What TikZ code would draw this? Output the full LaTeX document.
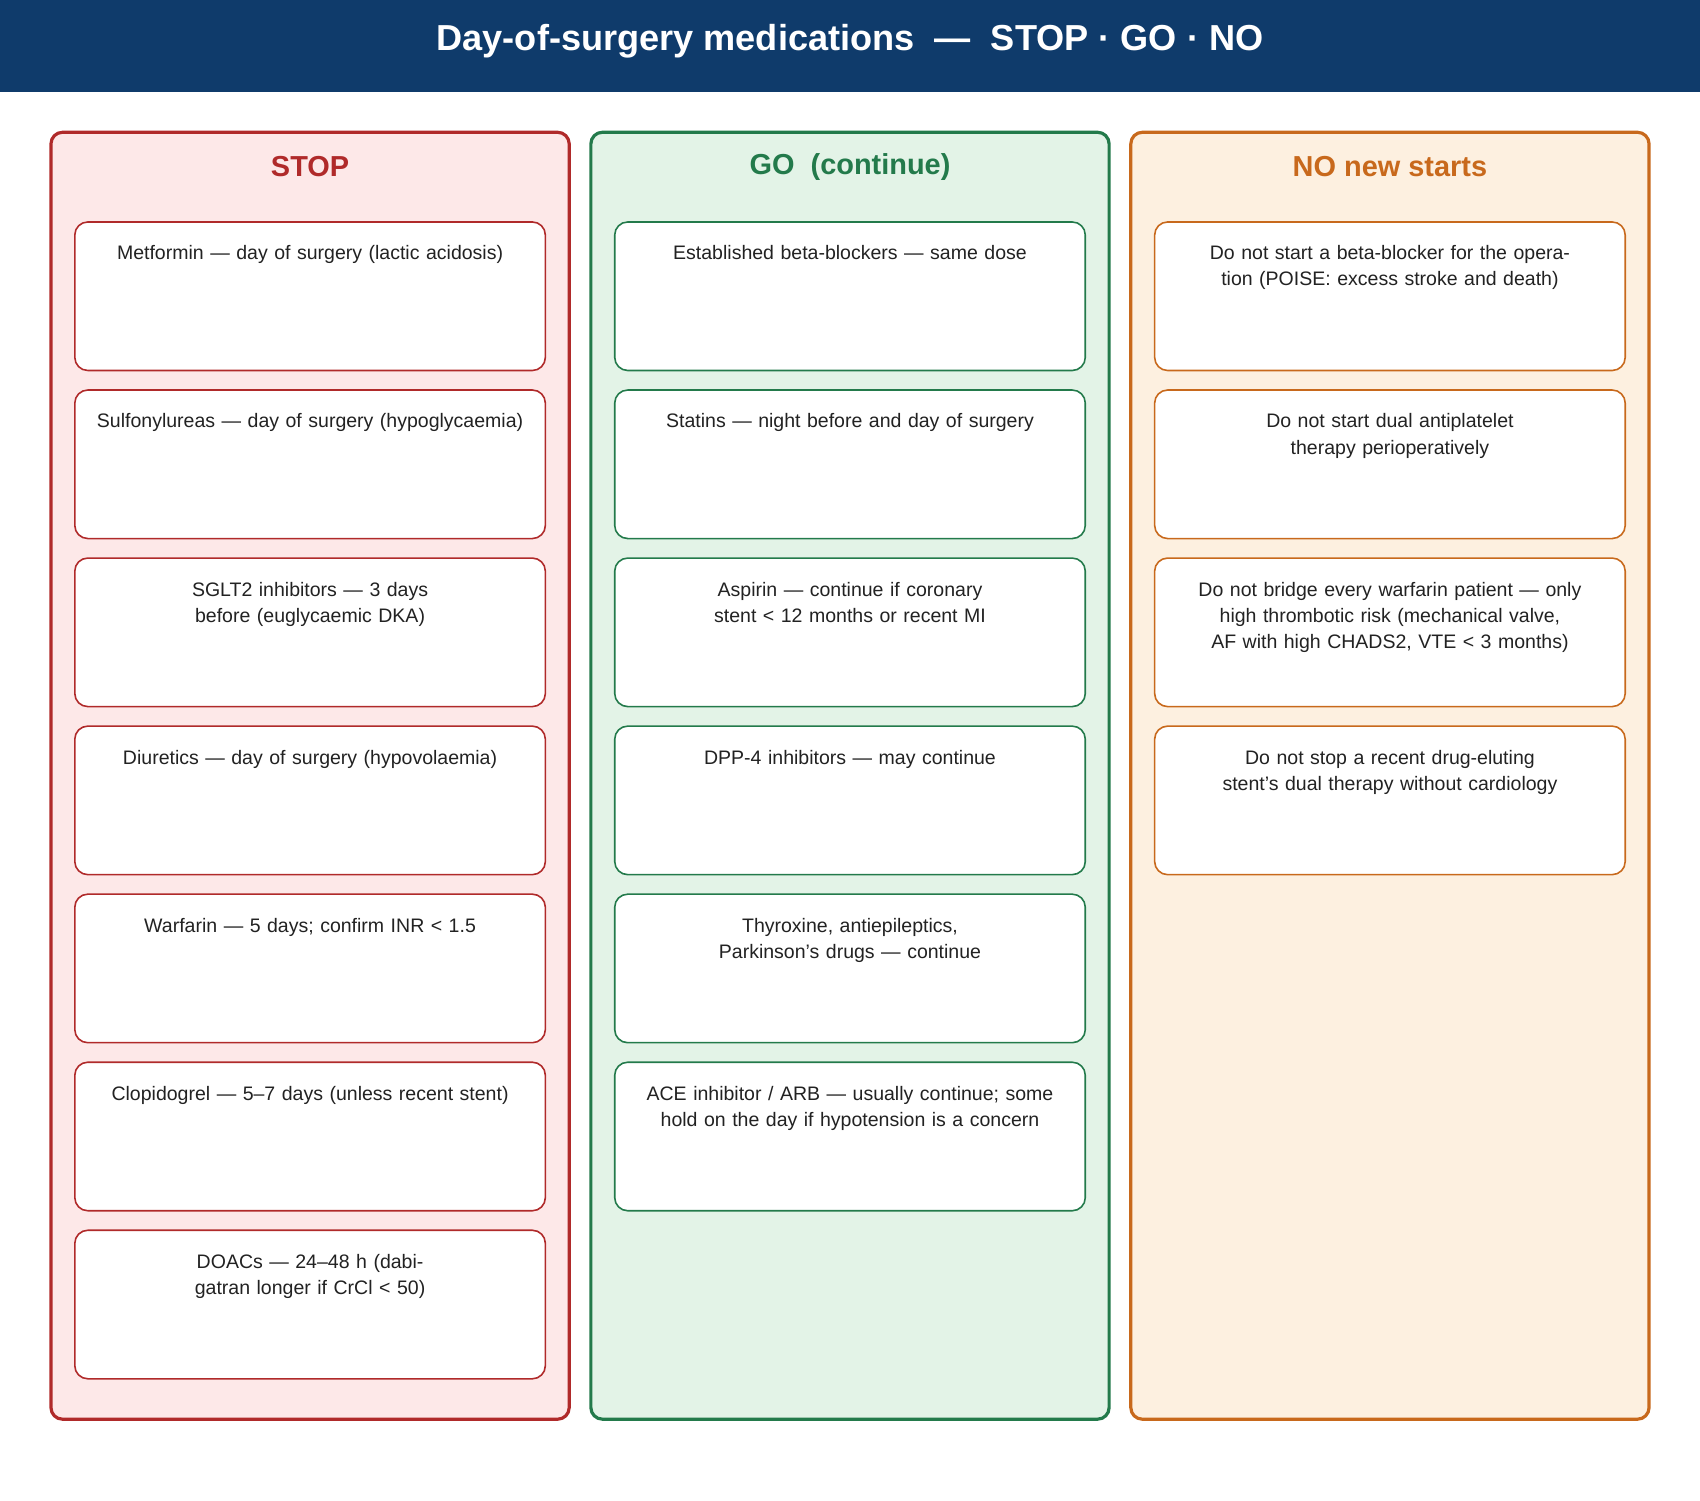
\documentclass[tikz,border=0pt]{standalone}
\usepackage{fontspec}
\setmainfont{Liberation Sans}
\usetikzlibrary{positioning}
\definecolor{hdrblue}{HTML}{0F3B6B}
\definecolor{stopc}{HTML}{B02A2A}
\definecolor{stopbg}{HTML}{FDE8E8}
\definecolor{goc}{HTML}{237A4B}
\definecolor{gobg}{HTML}{E3F3E7}
\definecolor{noc}{HTML}{C8691C}
\definecolor{nobg}{HTML}{FDF0E0}
\definecolor{txt}{HTML}{222222}
\tikzset{
  column/.style={draw=#1, line width=2.2pt, rounded corners=8pt},
  coltitle/.style={text=#1, font=\bfseries\fontsize{20}{24}\selectfont},
  card/.style={draw=#1, fill=white, line width=1.1pt, rounded corners=9pt,
    minimum width=434*0.75pt, minimum height=137*0.75pt, anchor=north},
  cardtext/.style={text=txt, font=\fontsize{13.5}{18}\selectfont, text width=400*0.75pt,
    align=center, anchor=north}
}
\begin{document}
\begin{tikzpicture}[x=0.75pt,y=-0.75pt,line cap=round,line join=round]
\useasboundingbox (0,0) rectangle (1568,1384);
% header
\fill[hdrblue] (0,0) rectangle (1568,85);
\node[text=white, font=\bfseries\fontsize{25}{30}\selectfont] (title) at (784,38)
  {Day-of-surgery medications \ --- \ STOP · GO · NO};
% columns
\filldraw[column=stopc, fill=stopbg] (47,122) rectangle (525,1309);
\filldraw[column=goc, fill=gobg] (545,122) rectangle (1023,1309);
\filldraw[column=noc, fill=nobg] (1043,122) rectangle (1521,1309);
\node[coltitle=stopc] (stoph) at (286,154) {STOP};
\node[coltitle=goc] (goh) at (784,154) {GO \ (continue)};
\node[coltitle=noc] (noh) at (1282,154) {NO new starts};
% STOP cards
\foreach \t [count=\i] in {
  {Metformin --- day of surgery (lactic acidosis)},
  {Sulfonylureas --- day of surgery (hypoglycaemia)},
  {SGLT2 inhibitors --- 3 days before (euglycaemic DKA)},
  {Diuretics --- day of surgery (hypovolaemia)},
  {Warfarin --- 5 days; confirm INR < 1.5},
  {Clopidogrel --- 5--7 days (unless recent stent)},
  {DOACs --- 24--48 h (dabigatran longer if CrCl < 50)}}{
  \node[card=stopc] (stop\i) at (286,{204+155*(\i-1)}) {};
  \node[cardtext] (stopt\i) at (286,{222+155*(\i-1)}) {\t};
}
% GO cards
\foreach \t [count=\i] in {
  {Established beta-blockers --- same dose},
  {Statins --- night before and day of surgery},
  {Aspirin --- continue if coronary stent < 12 months or recent MI},
  {DPP-4 inhibitors --- may continue},
  {Thyroxine, antiepileptics, Parkinson's drugs --- continue},
  {ACE inhibitor / ARB --- usually continue; some hold on the day if hypotension is a concern}}{
  \node[card=goc] (go\i) at (784,{204+155*(\i-1)}) {};
  \node[cardtext] (got\i) at (784,{222+155*(\i-1)}) {\t};
}
% NO cards
\foreach \t [count=\i] in {
  {Do not start a beta-blocker for the operation (POISE: excess stroke and death)},
  {Do not start dual antiplatelet therapy perioperatively},
  {Do not bridge every warfarin patient --- only high thrombotic risk (mechanical valve, AF with high CHADS2, VTE < 3 months)},
  {Do not stop a recent drug-eluting stent's dual therapy without cardiology}}{
  \node[card=noc] (no\i) at (1282,{204+155*(\i-1)}) {};
  \node[cardtext] (not\i) at (1282,{222+155*(\i-1)}) {\t};
}
\end{tikzpicture}
\end{document}
